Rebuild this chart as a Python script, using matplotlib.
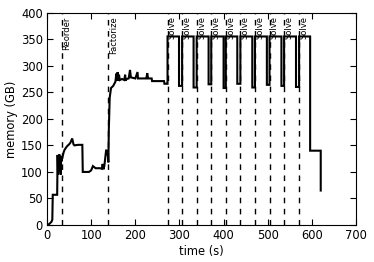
import matplotlib
matplotlib.use("Agg")
import matplotlib.pyplot as plt

# --- data ---
# Early phase (reorder + factorize), memory in GB vs time in s
early_t = [0, 5, 10, 12, 13, 23, 24, 25, 26, 27, 28, 29, 30, 31, 32, 33, 35, 38, 40, 45,
           50, 53, 57, 60, 62, 70, 80, 81, 95, 100, 104, 110, 120, 124, 126, 128, 130,
           134, 138, 139, 140, 142, 145, 150, 155, 157, 158, 160, 162, 163, 165, 170,
           175, 177, 178, 180, 185, 188, 190, 195, 200, 205, 206, 208, 210, 220, 225,
           227, 229, 237, 238, 265, 266, 272]
early_m = [0, 2, 6, 10, 57, 57, 132, 95, 130, 100, 133, 110, 130, 95, 125, 120, 128, 138, 142, 148,
           152, 155, 163, 152, 150, 151, 151, 100, 100, 103, 111, 107, 107, 106, 115, 105, 112,
           142, 130, 118, 180, 240, 258, 262, 270, 285, 272, 288, 272, 283, 273, 275,
           273, 283, 272, 275, 276, 292, 278, 277, 276, 288, 276, 276, 276, 276, 276,
           286, 276, 276, 271, 271, 266, 266]

# Solve phases
solve_start = [273, 306, 339, 372, 405, 438, 471, 504, 537, 571]
solve_end   = [299, 332, 366, 400, 431, 465, 498, 531, 564, 596]
solve_peak  = [355, 355, 355, 355, 355, 355, 355, 355, 355, 355]
solve_dip   = [262, 259, 265, 258, 266, 259, 264, 262, 260, 140]

# Tail
tail_t = [596, 620, 620]
tail_m = [140, 140, 65]

# Phase markers
reorder_t = 33
factorize_t = 139

# --- build the memory trace ---
t = list(early_t)
m = list(early_m)
for s, e, p, d in zip(solve_start, solve_end, solve_peak, solve_dip):
    t += [s, s, e, e]
    m += [m[-1], p, p, d]
t += tail_t
m += tail_m

fig = plt.figure(figsize=(3.74, 2.62), dpi=100)
ax = fig.add_axes([0.1257, 0.141, 0.8263, 0.811])

ax.plot(t, m, color='black', lw=1.5, solid_joinstyle='miter')

markers = [(reorder_t, 'Reorder'), (factorize_t, 'Factorize')] + [(s, 'Solve') for s in solve_start]
for x, lab in markers:
    ax.axvline(x, color='black', lw=1.0, ls=(0, (4, 4)))
    ax.text(x + 1, 393, lab, rotation=90, ha='left', va='top', fontsize=6)

ax.set_xlim(0, 700)
ax.set_ylim(0, 400)
ax.set_xticks(range(0, 701, 100))
ax.set_yticks(range(0, 401, 50))
ax.tick_params(direction='in', top=True, right=True, length=4, labelsize=8.3, pad=3)
ax.set_xlabel('time (s)', fontsize=8.3, labelpad=2)
ax.set_ylabel('memory (GB)', fontsize=8.3, labelpad=2)

fig.savefig('out.png', dpi=100)
